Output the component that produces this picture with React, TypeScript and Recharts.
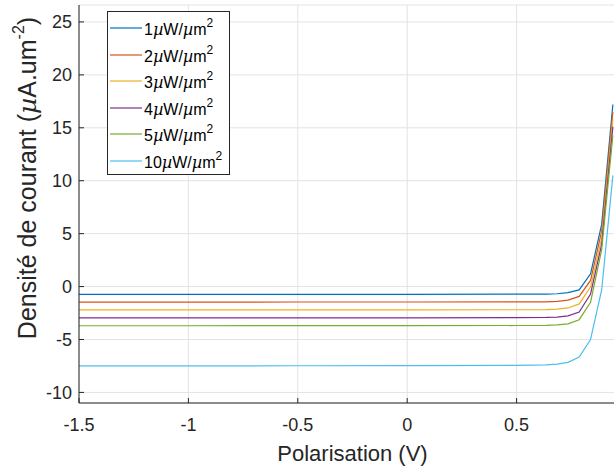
import React from 'react';
import { LineChart, Line, XAxis, YAxis, CartesianGrid, Legend } from 'recharts';

const voltage = [-1.5, -1, -0.5, 0, 0.5, 0.635, 0.685, 0.735, 0.786, 0.838, 0.889, 0.94];
const j1 = [-0.74, -0.74, -0.73, -0.73, -0.72, -0.71, -0.68, -0.58, -0.32, 1.2, 5.9, 17.2];
const j2 = [-1.47, -1.47, -1.46, -1.46, -1.45, -1.44, -1.4, -1.28, -0.93, 0.58, 5.25, 16.5];
const j3 = [-2.21, -2.21, -2.2, -2.2, -2.19, -2.18, -2.14, -2.02, -1.64, -0.05, 4.6, 15.8];
const j4 = [-2.96, -2.96, -2.95, -2.95, -2.94, -2.92, -2.88, -2.77, -2.41, -0.7, 4.0, 15.1];
const j5 = [-3.7, -3.7, -3.69, -3.69, -3.68, -3.67, -3.62, -3.53, -3.13, -1.48, 3.5, 14.3];
const j10 = [-7.5, -7.49, -7.48, -7.47, -7.44, -7.4, -7.32, -7.16, -6.65, -5.0, -0.3, 10.5];

const seriesNames = ['1', '2', '3', '4', '5', '10'];
const seriesValues = [j1, j2, j3, j4, j5, j10];
const seriesColors = ['#0072BD', '#D95319', '#EDB120', '#7E2F8E', '#77AC30', '#4DBEEE'];

const xTicks = [-1.5, -1, -0.5, 0, 0.5];
const yTicks = [-10, -5, 0, 5, 10, 15, 20, 25];
const xDomain = [-1.5, 1];
const yDomain = [-11, 26.6];

const data = voltage.map((v, i) => {
  const row: Record<string, number> = { v };
  seriesNames.forEach((n, k) => {
    row['p' + n] = seriesValues[k][i];
  });
  return row;
});

const FONT = '"Liberation Sans", Arial, Helvetica, sans-serif';
const MU_FONT = '"DejaVu Serif", "Liberation Serif", serif';
const TXT = '#262626';

const LegendBox = (props: any) => {
  const payload = [...(props.payload || [])].sort(
    (a: any, b: any) =>
      seriesNames.indexOf(String(a.dataKey).slice(1)) - seriesNames.indexOf(String(b.dataKey).slice(1))
  );
  return (
    <div
      style={{
        width: 121,
        height: 159,
        border: '1px solid #262626',
        background: '#fff',
        boxSizing: 'content-box',
        fontFamily: FONT,
        fontSize: 16,
        color: '#000',
        paddingTop: 3,
      }}
    >
      {payload.map((p: any, i: number) => {
        const n = String(p.dataKey).slice(1);
        return (
          <div key={i} style={{ display: 'flex', alignItems: 'center', height: 26.5, whiteSpace: 'nowrap' }}>
            <svg width={36} height={10} style={{ flex: 'none' }}>
              <line x1={2} x2={34} y1={5} y2={5} stroke={p.color} strokeWidth={1.2} />
            </svg>
            <span style={{ lineHeight: '16px', paddingTop: 4 }}>
              {n}
              <i style={{ fontFamily: MU_FONT, fontSize: 16 }}>µ</i>W/<i style={{ fontFamily: MU_FONT, fontSize: 16 }}>µ</i>m
              <sup style={{ fontSize: 12, verticalAlign: 8, lineHeight: 0 }}>2</sup>
            </span>
          </div>
        );
      })}
    </div>
  );
};

const YLabel = () => (
  <text
    transform="translate(36,178) rotate(-90)"
    textAnchor="middle"
    fontFamily={FONT}
    fontSize={25}
    fill={TXT}
  >
    Densité de courant (<tspan fontStyle="italic" fontFamily={MU_FONT}>µ</tspan>A.um
    <tspan fontSize={16} dy={-12}>-2</tspan>
    <tspan dy={12}>)</tspan>
  </text>
);

export default function App() {
  return (
    <div style={{ position: 'absolute', left: 0, top: 0, width: 614, height: 468, overflow: 'hidden', background: '#fff' }}>
      <LineChart
        width={626}
        height={468}
        data={data}
        margin={{ top: 5, right: 0, bottom: 0, left: 0 }}
      >
        <CartesianGrid stroke="#e3e3e3" strokeWidth={1} vertical horizontal />
        <XAxis
          dataKey="v"
          type="number"
          domain={xDomain}
          ticks={xTicks}
          allowDataOverflow
          height={65}
          stroke={TXT}
          tickSize={-5}
          tickMargin={20}
          tick={{ fontFamily: FONT, fontSize: 18, fill: TXT }}
          label={{ value: 'Polarisation (V)', position: 'insideBottom', offset: 7, style: { fontFamily: FONT, fontSize: 22, fill: TXT } }}
        />
        <XAxis
          xAxisId="top"
          orientation="top"
          dataKey="v"
          type="number"
          domain={xDomain}
          ticks={xTicks}
          allowDataOverflow
          height={0}
          stroke={TXT}
          tickSize={-5}
          tick={{ fill: 'none' }}
        />
        <YAxis
          type="number"
          domain={yDomain}
          ticks={yTicks}
          allowDataOverflow
          width={79}
          stroke={TXT}
          tickSize={-5}
          tickMargin={12}
          tick={{ fontFamily: FONT, fontSize: 18, fill: TXT }}
          label={<YLabel />}
        />
        <Legend
          verticalAlign="middle"
          align="center"
          layout="vertical"
          content={<LegendBox />}
          wrapperStyle={{ position: 'absolute', left: 107, top: 11, width: 123, height: 164 }}
        />
        {seriesNames.map((n, k) => (
          <Line
            key={n}
            type="linear"
            dataKey={'p' + n}
            name={n + 'µW/µm2'}
            stroke={seriesColors[k]}
            strokeWidth={1.2}
            dot={false}
            isAnimationActive={false}
          />
        ))}
      </LineChart>
    </div>
  );
}
